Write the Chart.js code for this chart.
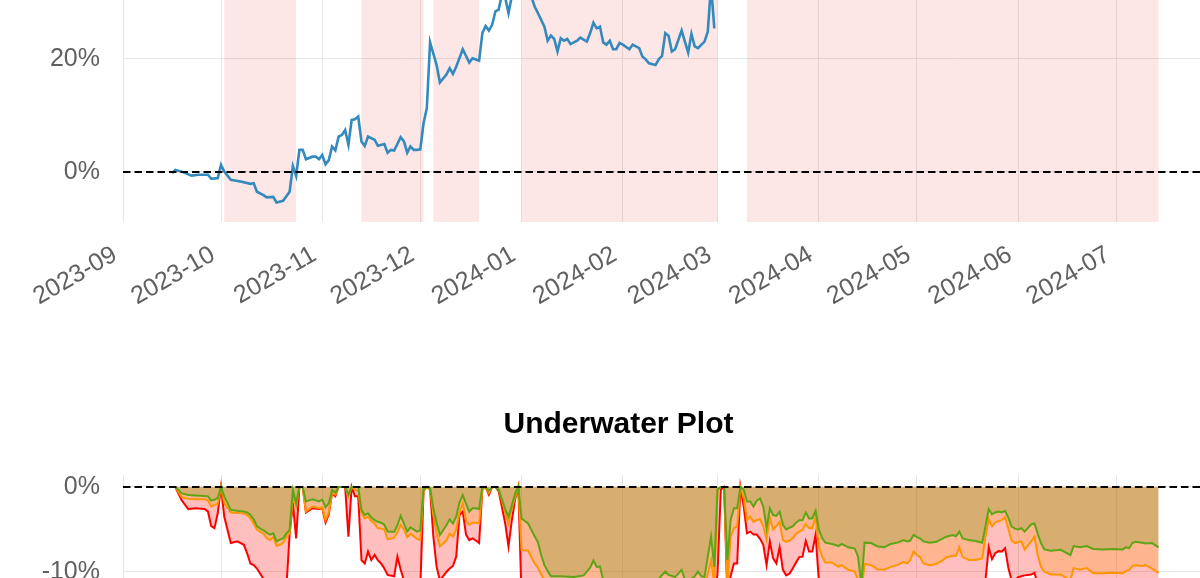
<!DOCTYPE html>
<html>
<head>
<meta charset="utf-8">
<script src="https://cdn.jsdelivr.net/npm/chart.js@4.4.1/dist/chart.umd.min.js"></script>
<style>
  html, body { margin: 0; padding: 0; background: #fff; }
  body { width: 1200px; height: 578px; overflow: hidden; position: relative; }
  canvas { position: absolute; left: 0; }
  #chartReturns { top: 0; }
  #chartUnderwater { top: 395px; }
</style>
</head>
<body>
<canvas id="chartReturns" width="1237" height="340"></canvas>
<canvas id="chartUnderwater" width="1237" height="183"></canvas>
<script>
// === Axis ticks ===
const monthTicks = ["2023-09", "2023-10", "2023-11", "2023-12", "2024-01", "2024-02",
  "2024-03", "2024-04", "2024-05", "2024-06", "2024-07"];
const returnTicks = [0, 20];
const underwaterTicks = [-10, 0];

// === Cumulative return (%) ===
const lineDates = [
  "2023-09-16", "2023-09-17", "2023-09-19", "2023-09-22", "2023-09-24", "2023-09-27", "2023-09-28", "2023-09-30",
  "2023-10-01", "2023-10-02", "2023-10-04", "2023-10-07", "2023-10-10", "2023-10-11", "2023-10-12", "2023-10-14",
  "2023-10-15", "2023-10-17", "2023-10-18", "2023-10-20", "2023-10-22", "2023-10-23", "2023-10-24", "2023-10-25",
  "2023-10-26", "2023-10-27", "2023-10-29", "2023-10-30", "2023-10-31",
  "2023-11-01", "2023-11-02", "2023-11-03", "2023-11-04", "2023-11-05", "2023-11-06", "2023-11-07", "2023-11-08",
  "2023-11-09", "2023-11-10", "2023-11-11", "2023-11-12", "2023-11-13", "2023-11-14", "2023-11-15", "2023-11-17",
  "2023-11-18", "2023-11-20", "2023-11-21", "2023-11-22", "2023-11-23", "2023-11-25", "2023-11-26", "2023-11-27",
  "2023-11-28", "2023-11-29", "2023-11-30",
  "2023-12-01", "2023-12-02", "2023-12-03", "2023-12-04", "2023-12-06", "2023-12-07", "2023-12-09", "2023-12-10",
  "2023-12-11", "2023-12-12", "2023-12-14", "2023-12-16", "2023-12-17", "2023-12-19", "2023-12-20", "2023-12-21",
  "2023-12-22", "2023-12-23", "2023-12-24", "2023-12-25", "2023-12-26", "2023-12-27", "2023-12-28", "2023-12-29",
  "2023-12-30", "2023-12-31",
  "2024-01-01", "2024-01-02", "2024-01-03", "2024-01-04", "2024-01-05", "2024-01-06", "2024-01-08", "2024-01-09",
  "2024-01-10", "2024-01-11", "2024-01-12", "2024-01-13", "2024-01-14", "2024-01-15", "2024-01-16", "2024-01-18",
  "2024-01-19", "2024-01-21", "2024-01-22", "2024-01-23", "2024-01-24", "2024-01-25", "2024-01-26", "2024-01-27",
  "2024-01-28", "2024-01-29", "2024-01-30", "2024-01-31",
  "2024-02-01", "2024-02-03", "2024-02-04", "2024-02-06", "2024-02-07", "2024-02-08", "2024-02-09", "2024-02-11",
  "2024-02-12", "2024-02-13", "2024-02-14", "2024-02-15", "2024-02-16", "2024-02-17", "2024-02-19", "2024-02-21",
  "2024-02-22", "2024-02-23", "2024-02-24", "2024-02-26", "2024-02-27", "2024-02-28", "2024-02-29"
];
const lineValues = [
  -0.2, 0.35, 0.05, -0.65, -0.5, -0.5, -1.2, -1.1,
  1.25, 0.05, -1.4, -1.7, -2.1, -2.0, -3.5, -4.1, -4.5, -4.4, -5.4, -5.1, -3.5, 1.05, -0.7, 3.9, 3.9, 2.25, 2.7, 2.7, 2.25,
  3.0, 1.35, 2.1, 4.5, 3.8, 6.25, 6.55, 7.4, 4.8, 9.2, 9.3, 9.8, 5.4, 4.6, 6.25, 5.7, 4.65, 4.95, 3.4, 3.9, 3.8,
  6.15, 5.4, 3.4, 4.5, 3.9, 3.9,
  4.0, 8.6, 11.3, 22.9, 18.9, 15.8, 17.2, 18.35, 17.35, 18.6, 21.7, 19.35, 20.1, 19.65, 24.55, 25.8, 25.0, 26.0,
  28.4, 28.7, 31.5, 30.8, 28.1, 31.0, 32, 33,
  34, 33, 32, 31, 29.25, 28.1, 25.7, 23.2, 24.1, 23.5, 21.3, 23.65, 23.2, 23.5, 22.6, 23.2, 23.75, 23.05, 24.55,
  26.4, 25.4, 25.7, 22.9, 22.5, 23.2, 21.7, 21.7, 22.8,
  22.5, 21.7, 22.5, 21.9, 20.4, 19.9, 19.2, 18.9, 19.9, 20.5, 24.55, 24.1, 21.3, 21.7, 25.0, 21.1, 24.4, 22.2,
  21.9, 23.05, 24.8, 33, 25.4
];

// === Shaded periods ===
const shadeStarts = ["2023-10-02", "2023-11-13", "2023-12-05", "2024-01-01", "2024-03-10"];
const shadeEnds = ["2023-10-24", "2023-12-02", "2023-12-19", "2024-03-01", "2024-07-14"];

// === Underwater (%) ===
const uwDates = [
  "2023-09-17", "2023-09-19", "2023-09-21", "2023-09-23", "2023-09-26", "2023-09-27", "2023-09-28", "2023-09-29", "2023-09-30",
  "2023-10-01", "2023-10-02", "2023-10-04", "2023-10-06", "2023-10-08", "2023-10-09", "2023-10-10", "2023-10-11",
  "2023-10-12", "2023-10-13", "2023-10-14", "2023-10-15", "2023-10-16", "2023-10-17", "2023-10-18", "2023-10-19",
  "2023-10-20", "2023-10-21", "2023-10-22", "2023-10-23", "2023-10-24", "2023-10-25", "2023-10-26", "2023-10-27",
  "2023-10-29", "2023-10-31",
  "2023-11-01", "2023-11-02", "2023-11-03", "2023-11-04", "2023-11-05", "2023-11-06", "2023-11-08", "2023-11-09",
  "2023-11-10", "2023-11-11", "2023-11-12", "2023-11-13", "2023-11-14", "2023-11-15", "2023-11-16", "2023-11-17",
  "2023-11-18", "2023-11-19", "2023-11-20", "2023-11-21", "2023-11-23", "2023-11-24", "2023-11-25", "2023-11-26",
  "2023-11-27", "2023-11-28", "2023-11-30",
  "2023-12-01", "2023-12-02", "2023-12-03", "2023-12-04", "2023-12-05", "2023-12-06", "2023-12-07", "2023-12-09",
  "2023-12-10", "2023-12-11", "2023-12-12", "2023-12-13", "2023-12-14", "2023-12-15", "2023-12-16", "2023-12-17",
  "2023-12-18", "2023-12-19", "2023-12-20", "2023-12-21", "2023-12-22", "2023-12-23", "2023-12-24", "2023-12-25",
  "2023-12-27", "2023-12-28", "2023-12-29", "2023-12-30", "2023-12-31",
  "2024-01-01", "2024-01-03", "2024-01-05", "2024-01-06", "2024-01-07", "2024-01-08", "2024-01-09", "2024-01-10",
  "2024-01-13", "2024-01-17", "2024-01-20", "2024-01-22", "2024-01-23", "2024-01-24", "2024-01-25", "2024-01-26",
  "2024-01-29",
  "2024-02-03", "2024-02-08", "2024-02-12", "2024-02-14", "2024-02-15", "2024-02-17", "2024-02-19", "2024-02-20",
  "2024-02-22", "2024-02-23", "2024-02-24", "2024-02-25", "2024-02-26", "2024-02-28", "2024-02-29",
  "2024-03-01", "2024-03-02", "2024-03-03", "2024-03-04", "2024-03-05", "2024-03-06", "2024-03-07", "2024-03-08",
  "2024-03-09", "2024-03-10", "2024-03-11", "2024-03-12", "2024-03-13", "2024-03-14", "2024-03-15", "2024-03-16",
  "2024-03-17", "2024-03-18", "2024-03-19", "2024-03-20", "2024-03-21", "2024-03-22", "2024-03-23", "2024-03-24",
  "2024-03-25", "2024-03-26", "2024-03-27", "2024-03-28", "2024-03-29", "2024-03-30", "2024-03-31",
  "2024-04-01", "2024-04-02", "2024-04-03", "2024-04-05", "2024-04-07", "2024-04-08", "2024-04-10", "2024-04-12",
  "2024-04-13", "2024-04-14", "2024-04-15", "2024-04-17", "2024-04-19", "2024-04-21", "2024-04-23", "2024-04-25",
  "2024-04-27", "2024-04-28", "2024-04-29", "2024-04-30",
  "2024-05-01", "2024-05-02", "2024-05-03", "2024-05-05", "2024-05-07", "2024-05-09", "2024-05-10", "2024-05-12",
  "2024-05-13", "2024-05-14", "2024-05-15", "2024-05-17", "2024-05-19", "2024-05-21", "2024-05-22", "2024-05-23",
  "2024-05-24", "2024-05-25", "2024-05-26", "2024-05-27", "2024-05-28", "2024-05-29", "2024-05-30", "2024-05-31",
  "2024-06-01", "2024-06-02", "2024-06-03", "2024-06-05", "2024-06-06", "2024-06-07", "2024-06-08", "2024-06-09",
  "2024-06-11", "2024-06-14", "2024-06-17", "2024-06-18", "2024-06-20", "2024-06-22", "2024-06-24", "2024-06-27",
  "2024-06-30",
  "2024-07-03", "2024-07-04", "2024-07-05", "2024-07-06", "2024-07-07", "2024-07-09", "2024-07-10", "2024-07-12",
  "2024-07-14"
];
const uwGreen = [
  0, -0.75, -0.95, -1.0, -1.05, -1.1, -1.6, -1.5, -1.3,
  0, -1.1, -2.7, -2.8, -2.9, -3.0, -3.3, -3.8, -4.6, -4.9, -5.1, -5.4, -5.6, -5.45, -6.4, -6.2, -6.05, -5.5, -5.05,
  -0.35, -1.9, 0, 0, -1.7, -1.45, -1.7,
  -1.5, -2.4, -1.9, -0.35, -0.65, 0, 0, -0.9, 0, 0, 0, -2.7, -3.3, -3.1, -3.6, -3.9, -4.1, -4.2, -4.45, -5.25,
  -5.3, -4.5, -3.4, -4.3, -5.25, -4.75, -5.25,
  -5.1, -0.2, 0, -0.15, -2.5, -4.2, -5.65, -4.5, -3.8, -4.3, -3.5, -1.8, -0.95, -2.0, -2.9, -2.5, -2.5, -2.6,
  0, 0, -0.45, 0, 0, -0.3, -2.6, -3.5, -2.2, -0.8, 0,
  -3.7, -4.3, -5.8, -6.5, -8.0, -9.2, -9.9, -10.5, -10.5, -10.6, -10.4, -9.5, -8.65, -9.4, -9.35, -11, -11.5,
  -12, -11.5, -10.8, -9.95, -10.35, -10.6, -9.75, -10.9, -10.8, -10.5, -9.95, -10.5, -10.6, -5.85, -9.4,
  -0.3, 0, 0, -8.6, -3.9, -2.5, -2.5, 0, -0.3, -1.7, -1.7, -2.3, -1.6, -1.35, -2.3, -4.85, -2.5, -3.3, -3.4, -2.9,
  -4.45, -5.0, -4.8, -4.65, -4.2, -3.9, -3.9, -3.0, -3.7, -3.7, -2.8,
  -5.0, -6.0, -6.55, -6.7, -6.95, -6.7, -7.1, -7.25, -8.2, -11.5, -6.55, -6.6, -7.0, -7.1, -6.7, -6.55, -6.25,
  -6.4, -6.3, -5.65,
  -5.9, -6.05, -6.4, -6.55, -6.45, -6.05, -5.85, -5.65, -5.8, -5.25, -6.05, -6.25, -6.35, -6.55, -4.65, -2.6,
  -3.2, -3.0, -2.9, -3.0, -2.8, -3.6, -4.65, -4.9,
  -5.0, -4.85, -5.25, -4.4, -4.3, -5.5, -6.6, -7.35, -7.5, -7.4, -8.0, -6.95, -7.1, -6.95, -7.3, -7.35, -7.3,
  -7.35, -7.1, -7.2, -6.6, -6.45, -6.55, -6.65, -6.6, -7.1
];
const uwOrange = [
  0, -1.2, -1.4, -1.45, -1.45, -1.6, -2.3, -2.1, -2.0,
  0, -1.9, -3.0, -3.05, -3.1, -3.3, -3.7, -4.3, -5.0, -5.3, -5.5, -6.0, -6.25, -5.9, -6.95, -6.8, -6.6, -5.9, -5.45,
  -1.15, -2.3, 0, 0, -2.9, -2.3, -2.5,
  -2.4, -3.9, -3.0, -0.7, -0.9, 0, 0, -1.1, 0, -0.3, -0.5, -3.1, -3.7, -3.5, -4.0, -4.3, -4.85, -4.9, -5.0, -6.15,
  -6.0, -5.3, -4.45, -5.0, -5.9, -5.5, -6.1,
  -6.25, -0.4, 0, -0.3, -3.3, -5.5, -7.0, -6.3, -5.5, -5.85, -5.0, -3.0, -1.9, -4.0, -4.45, -4.2, -4.2, -4.3,
  -0.3, 0, -0.7, 0, 0, -0.3, -3.0, -4.3, -2.6, -1.2, 0,
  -7.4, -7.5, -9.0, -9.5, -10.3, -11, -11.5, -12, -12, -12, -12, -11.5, -11, -11.5, -11.5, -13, -13,
  -13.5, -13, -12.5, -12, -12, -12.5, -12, -12.5, -12.5, -12, -11.5, -12, -12, -8.6, -11.5,
  -0.3, 0, 0, -11.5, -5.85, -4.85, -4.65, 0, -1.3, -3.9, -3.5, -4.1, -3.9, -3.8, -4.6, -6.2, -3.6, -5.0, -4.6, -4.1,
  -6.25, -6.45, -6.3, -6.05, -5.5, -5.25, -5.05, -4.35, -4.85, -4.85, -3.5,
  -7.0, -8.2, -8.9, -8.9, -9.4, -9.2, -9.75, -9.95, -11, -12.5, -9.05, -9.2, -9.7, -9.75, -9.4, -9.2, -8.8,
  -9.0, -8.6, -7.6,
  -8.0, -8.25, -9.0, -9.2, -9.05, -8.6, -8.3, -8.1, -8.1, -7.1, -8.25, -8.6, -8.6, -8.4, -5.85, -3.8,
  -4.65, -4.2, -4.0, -3.9, -3.55, -4.9, -6.3, -6.6,
  -6.5, -6.4, -7.35, -6.4, -5.85, -8.0, -9.4, -9.95, -10.3, -10.3, -11, -9.55, -9.75, -9.55, -10.15, -10.15, -10.1,
  -10.15, -9.9, -9.75, -9.3, -9.2, -9.3, -9.2, -9.6, -10.1
];
const uwRed = [
  0, -1.6, -2.6, -2.5, -2.6, -2.9, -4.6, -4.85, -3.1,
  0, -3.5, -6.6, -6.4, -6.8, -7.8, -9.0, -9.2, -9.6, -10.2, -10.8, -11.5, -12, -12, -13, -13, -13, -12, -5.6,
  -1.9, -6.05, 0, 0, -3.0, -2.5, -2.6,
  -2.5, -4.2, -3.2, -0.75, -1.1, 0, 0, -5.85, 0, -1.1, -1.1, -8.6, -9.0, -7.6, -8.6, -8.0, -8.6, -9.0, -9.6, -10.35,
  -10.5, -8.2, -9.75, -11, -12, -11.5, -12,
  -12, -0.5, 0, -0.3, -5.85, -9.4, -11, -10.0, -9.6, -9.3, -8.2, -3.3, -2.9, -5.6, -6.25, -6.05, -6.3, -6.6,
  -0.3, 0, -0.9, 0, 0, -0.5, -4.3, -7.0, -4.0, -1.5, 0,
  -13, -14, -15, -15, -16, -17, -17, -18, -18, -18, -18, -17, -17, -17, -17, -19, -19,
  -19, -19, -18, -18, -18, -18, -17, -18, -18, -17, -16, -16, -16, -12, -14,
  -10.1, -0.3, 0, -13, -10.5, -9, -9, 0, -2.3, -5.45, -5.25, -5.6, -5.6, -6.1, -6.8, -9.2, -6.4, -8.4, -9.0, -7.1,
  -9.75, -10.4, -10.2, -9.6, -8.9, -8.25, -8.2, -6.35, -7.6, -7.6, -5.65,
  -11, -14, -15, -15, -15, -15, -16, -16, -16, -17, -15, -15, -15, -15, -15, -15, -14,
  -14, -14, -13,
  -13, -13, -14, -14, -14, -14, -13, -13, -13, -12, -13, -13, -13, -13, -11, -7.1,
  -8.5, -7.8, -7.55, -7.6, -7.2, -9.5, -11, -11,
  -10.6, -10.5, -10.4, -10.3, -10.1, -11.5, -13, -14, -14, -14, -15, -14, -14, -14, -14, -14, -14,
  -14, -14, -14, -13, -13, -13, -13, -13, -14
];

const toTs = s => Date.parse((s.length === 7 ? s + "-01" : s) + "T00:00:00Z");
const xMin = toTs("2023-09-01");
const xMax = toTs("2024-08-07");
const tickColor = "#606060";
const gridColor = "#e6e6e6";

Chart.defaults.font.family = '"Liberation Sans", Arial, sans-serif';

// === Plugins ===
const shading = {
  id: "shading",
  beforeDatasetsDraw(chart) {
    const { ctx, chartArea, scales: { x } } = chart;
    ctx.save();
    ctx.fillStyle = "rgba(240, 60, 60, 0.13)";
    shadeStarts.forEach((s, i) => {
      const x0 = x.getPixelForValue(toTs(s));
      const x1 = x.getPixelForValue(toTs(shadeEnds[i]));
      ctx.fillRect(x0, chartArea.top, x1 - x0, chartArea.bottom - chartArea.top);
    });
    ctx.restore();
  }
};

const zeroLine = {
  id: "zeroLine",
  afterDatasetsDraw(chart) {
    const { ctx, chartArea, scales: { y } } = chart;
    const py = y.getPixelForValue(0);
    ctx.save();
    ctx.strokeStyle = "#000";
    ctx.lineWidth = 2;
    ctx.setLineDash([7.5, 4]);
    ctx.beginPath();
    ctx.moveTo(chartArea.left, py);
    ctx.lineTo(chartArea.right, py);
    ctx.stroke();
    ctx.restore();
  }
};

function xAxis(showLabels, height) {
  return {
    type: "linear",
    min: xMin,
    max: xMax,
    afterBuildTicks: s => { s.ticks = monthTicks.map(m => ({ value: toTs(m) })); },
    afterFit: s => { s.height = height; s.paddingLeft = 0; s.paddingRight = 0; },
    grid: { color: gridColor, lineWidth: 1, drawTicks: false },
    border: { display: false },
    ticks: {
      display: showLabels,
      autoSkip: false,
      minRotation: 30,
      maxRotation: 30,
      padding: 18,
      labelOffset: -8,
      color: tickColor,
      font: { size: 25 },
      callback: (v, i) => monthTicks[i]
    }
  };
}

function yAxis(min, max, ticks) {
  return {
    min: min,
    max: max,
    afterBuildTicks: s => { s.ticks = ticks.map(v => ({ value: v })); },
    afterFit: s => { s.width = 123; s.paddingTop = 0; s.paddingBottom = 0; },
    grid: { color: gridColor, lineWidth: 1, drawTicks: false },
    border: { display: false },
    ticks: { padding: 23, color: tickColor, font: { size: 25 }, callback: v => v + "%" }
  };
}

// === Cumulative returns ===
new Chart(document.getElementById("chartReturns"), {
  type: "line",
  data: {
    datasets: [{
      data: lineDates.map((d, i) => ({ x: toTs(d), y: lineValues[i] })),
      borderColor: "#348ABD",
      borderWidth: 2.6,
      pointRadius: 0,
      tension: 0,
      fill: false
    }]
  },
  options: {
    responsive: false,
    animation: false,
    layout: { padding: 0 },
    plugins: { legend: { display: false }, tooltip: { enabled: false } },
    scales: {
      x: xAxis(true, 118),
      y: yAxis(-8.85, 30.4, returnTicks)
    }
  },
  plugins: [shading, zeroLine]
});

// === Underwater plot ===
const uwSeries = [
  { values: uwGreen, line: "#5ea516", fill: "rgba(95, 150, 20, 0.25)" },
  { values: uwOrange, line: "#ff9500", fill: "rgba(255, 150, 0, 0.25)" },
  { values: uwRed, line: "#ff0000", fill: "rgba(255, 0, 0, 0.25)" }
];

new Chart(document.getElementById("chartUnderwater"), {
  type: "line",
  data: {
    datasets: uwSeries.map((s, k) => ({
      data: uwDates.map((d, i) => ({ x: toTs(d), y: s.values[i] })),
      borderColor: s.line,
      backgroundColor: s.fill,
      borderWidth: 2,
      pointRadius: 0,
      tension: 0,
      fill: "origin",
      order: k
    }))
  },
  options: {
    responsive: false,
    animation: false,
    layout: { padding: 0 },
    plugins: {
      legend: { display: false },
      tooltip: { enabled: false },
      title: {
        display: true,
        text: "Underwater Plot",
        color: "#000",
        font: { size: 30, weight: "bold" },
        padding: { top: 12, bottom: 32 }
      }
    },
    scales: {
      x: xAxis(false, 0),
      y: yAxis(-10.71, 1.41, underwaterTicks)
    }
  },
  plugins: [zeroLine]
});
</script>
</body>
</html>
